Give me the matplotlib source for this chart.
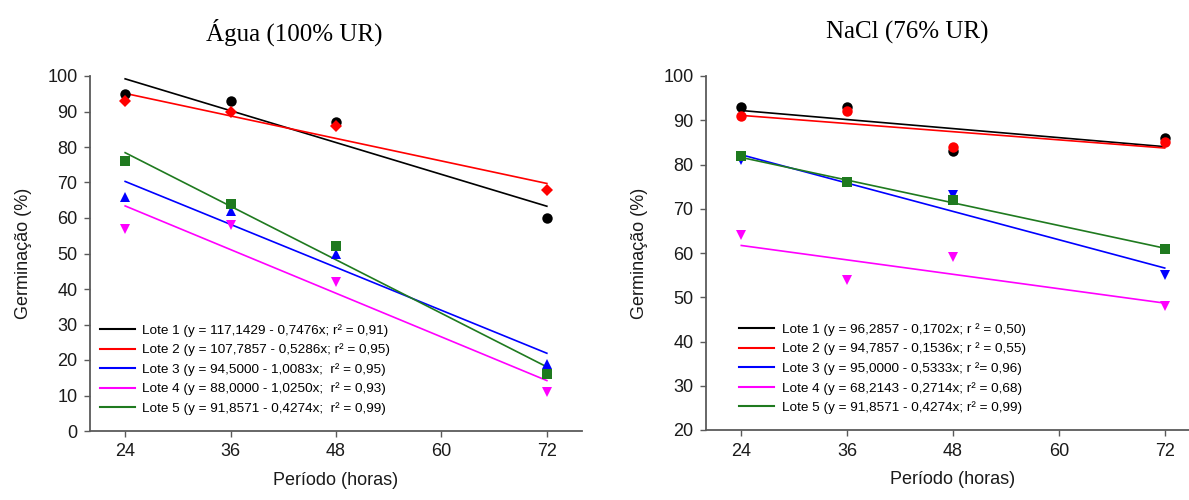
import matplotlib
matplotlib.use("Agg")
import matplotlib.pyplot as plt
from matplotlib.lines import Line2D
import numpy as np

# Germination over time for five seed lots under two humidity conditions
hours = [24, 36, 48, 72]
lots = ["Lote 1", "Lote 2", "Lote 3", "Lote 4", "Lote 5"]

# Água (100% UR)
agua_lote1 = [95, 93, 87, 60]
agua_lote2 = [93, 90, 86, 68]
agua_lote3 = [66, 62, 50, 19]
agua_lote4 = [57, 58, 42, 11]
agua_lote5 = [76, 64, 52, 16]
agua_intercept = [117.1429, 107.7857, 94.5000, 88.0000, 108.5714]
agua_slope = [-0.7476, -0.5286, -1.0083, -1.0250, -1.2571]
agua_labels = [
    "Lote 1 (y = 117,1429 - 0,7476x; r² = 0,91)",
    "Lote 2 (y = 107,7857 - 0,5286x; r² = 0,95)",
    "Lote 3 (y = 94,5000 - 1,0083x;  r² = 0,95)",
    "Lote 4 (y = 88,0000 - 1,0250x;  r² = 0,93)",
    "Lote 5 (y = 91,8571 - 0,4274x;  r² = 0,99)",
]

# NaCl (76% UR)
nacl_lote1 = [93, 93, 83, 86]
nacl_lote2 = [91, 92, 84, 85]
nacl_lote3 = [81, 76, 73, 55]
nacl_lote4 = [64, 54, 59, 48]
nacl_lote5 = [82, 76, 72, 61]
nacl_intercept = [96.2857, 94.7857, 95.0000, 68.2143, 91.8571]
nacl_slope = [-0.1702, -0.1536, -0.5333, -0.2714, -0.4274]
nacl_labels = [
    "Lote 1 (y = 96,2857 - 0,1702x; r ² = 0,50)",
    "Lote 2 (y = 94,7857 - 0,1536x; r ² = 0,55)",
    "Lote 3 (y = 95,0000 - 0,5333x; r ²= 0,96)",
    "Lote 4 (y = 68,2143 - 0,2714x; r² = 0,68)",
    "Lote 5 (y = 91,8571 - 0,4274x; r² = 0,99)",
]

colors = ["#000000", "#ff0000", "#0000ff", "#ff00ff", "#1f7a1f"]
agua_markers = ["o", "D", "^", "v", "s"]
nacl_markers = ["o", "o", "v", "v", "s"]
marker_sizes = {"o": 7.5, "D": 6.5, "^": 7.5, "v": 7.5, "s": 6.5}

plt.rcParams["font.family"] = ["Liberation Sans", "DejaVu Sans"]

W, H = 1189, 500
fig = plt.figure(figsize=(W / 100, H / 100), dpi=100)


def px_axes(x0, x1, y_top, y_bot):
    return fig.add_axes([x0 / W, 1 - y_bot / H, (x1 - x0) / W, (y_bot - y_top) / H])


def draw_panel(ax, series, intercepts, slopes, markers, labels, ylim, yticks,
               legend_anchor):
    x_line = np.array([hours[0], hours[-1]])
    for vals, b0, b1, mk, col in zip(series, intercepts, slopes, markers, colors):
        ax.plot(hours, vals, linestyle="none", marker=mk, color=col,
                markersize=marker_sizes[mk], markeredgewidth=0, zorder=3)
        ax.plot(x_line, b0 + b1 * x_line, color=col, linewidth=1.2, zorder=2)
    ax.set_xlim(20, 76)
    ax.set_ylim(*ylim)
    ax.set_xticks([24, 36, 48, 60, 72])
    ax.set_yticks(yticks)
    for side in ("top", "right"):
        ax.spines[side].set_visible(False)
    for side in ("left", "bottom"):
        ax.spines[side].set_color("#5a5a5a")
        ax.spines[side].set_linewidth(1.3)
    ax.tick_params(direction="out", length=4, width=1, color="#5a5a5a",
                   labelsize=13, labelcolor="#1a1a1a", pad=5)
    ax.set_xlabel("Período (horas)", fontsize=13, color="#1a1a1a", labelpad=8)
    ax.set_ylabel("Germinação (%)", fontsize=13, color="#1a1a1a", labelpad=11)
    handles = [Line2D([], [], color=c, linewidth=1.5) for c in colors]
    ax.legend(handles, labels, loc="lower left", bbox_to_anchor=legend_anchor,
              frameon=False, fontsize=9.7, handlelength=2.6, handletextpad=0.55,
              labelspacing=0.5, borderaxespad=0, borderpad=0)


ax1 = px_axes(90, 582, 76, 431)
draw_panel(ax1, [agua_lote1, agua_lote2, agua_lote3, agua_lote4, agua_lote5],
           agua_intercept, agua_slope, agua_markers, agua_labels,
           (0, 100), range(0, 101, 10), (0.02, 0.045))

ax2 = px_axes(706, 1200, 76, 430)
draw_panel(ax2, [nacl_lote1, nacl_lote2, nacl_lote3, nacl_lote4, nacl_lote5],
           nacl_intercept, nacl_slope, nacl_markers, nacl_labels,
           (20, 100), range(20, 101, 10), (0.067, 0.045))

fig.text(294 / W, 1 - 32 / H, "Água (100% UR)", ha="center", va="center",
         fontsize=18, family="Liberation Serif")
fig.text(907 / W, 1 - 32 / H, "NaCl (76% UR)", ha="center", va="center",
         fontsize=18, family="Liberation Serif")

fig.savefig("out.png", dpi=100)
